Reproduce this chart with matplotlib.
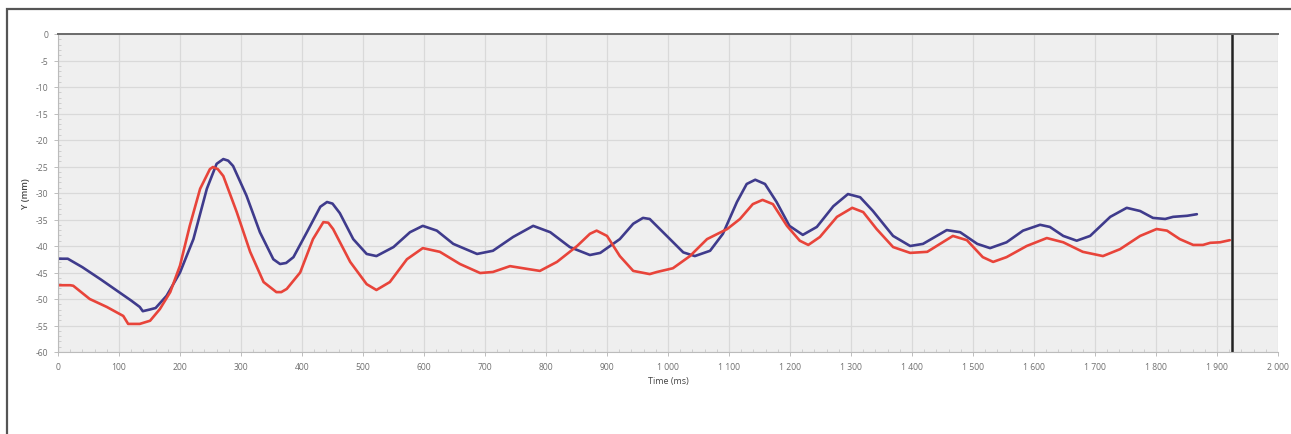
import matplotlib
matplotlib.use("Agg")
import matplotlib.pyplot as plt
from matplotlib.ticker import MultipleLocator, FuncFormatter
from matplotlib.patches import Rectangle

# Time samples (ms) and vertical position (mm) for the two traces
blue_t = [0, 16, 40, 70, 100, 120, 134, 139, 150, 160,
          178, 200, 222, 244, 260, 271, 279, 287, 309, 331, 353,
          364, 374, 386, 408, 430, 441, 450, 462, 484, 506, 522, 550,
          577, 598, 621, 648, 687, 713, 746, 779, 807, 839,
          872, 889, 921, 943, 959, 970, 998, 1025, 1044, 1069,
          1090, 1113, 1129, 1143, 1159, 1178, 1199, 1221, 1244, 1271,
          1295, 1315, 1336, 1369, 1397, 1418, 1457, 1479, 1507, 1528,
          1555, 1582, 1610, 1626, 1648, 1670, 1692, 1725, 1752, 1774,
          1795, 1815, 1828, 1851, 1867]
blue_y = [-42.4, -42.4, -44.0, -46.3, -48.7, -50.3, -51.5, -52.3, -52.0, -51.7,
          -49.4, -45.0, -38.7, -29.2, -24.5, -23.6, -23.9, -24.9, -30.5, -37.4, -42.5,
          -43.4, -43.2, -42.1, -37.4, -32.6, -31.7, -32.0, -33.8, -38.7, -41.5, -41.9, -40.2,
          -37.4, -36.2, -37.1, -39.6, -41.5, -40.9, -38.3, -36.2, -37.4, -40.2,
          -41.7, -41.3, -38.7, -35.8, -34.7, -34.9, -38.1, -41.2, -41.9, -40.9,
          -37.7, -31.7, -28.3, -27.5, -28.3, -31.7, -36.2, -37.9, -36.4, -32.5,
          -30.2, -30.8, -33.4, -38.1, -40.0, -39.6, -37.0, -37.4, -39.6, -40.4,
          -39.3, -37.1, -36.0, -36.4, -38.1, -39.0, -38.1, -34.5, -32.8, -33.4,
          -34.7, -34.9, -34.5, -34.3, -34.0]

red_t = [0, 20, 25, 52, 80, 107, 115, 134, 151, 167,
         184, 200, 216, 233, 249, 254, 262, 271, 293, 315, 337,
         358, 366, 375, 397, 418, 435, 443, 451, 479, 506, 522, 544,
         572, 598, 626, 659, 692, 713, 741, 768, 790, 818,
         851, 872, 883, 900, 921, 943, 970, 982, 1008, 1036,
         1064, 1097, 1118, 1139, 1155, 1172, 1195, 1216, 1230, 1249,
         1277, 1302, 1320, 1342, 1369, 1397, 1425, 1467, 1490, 1516,
         1533, 1555, 1588, 1621, 1648, 1680, 1713, 1741, 1774, 1801,
         1818, 1839, 1861, 1877, 1889, 1905, 1921]
red_y = [-47.4, -47.4, -47.5, -50.0, -51.5, -53.2, -54.7, -54.7, -54.1, -51.9,
         -48.7, -43.7, -36.2, -29.2, -25.5, -25.1, -25.5, -26.8, -33.6, -41.1, -46.8,
         -48.7, -48.7, -48.1, -45.0, -38.7, -35.5, -35.6, -36.8, -43.0, -47.2, -48.3, -46.8,
         -42.5, -40.4, -41.1, -43.4, -45.1, -44.9, -43.8, -44.3, -44.7, -43.0,
         -40.0, -37.7, -37.1, -38.1, -41.9, -44.7, -45.3, -44.9, -44.2, -41.9,
         -38.7, -36.8, -34.9, -32.1, -31.3, -32.1, -36.2, -39.0, -39.8, -38.3,
         -34.5, -32.8, -33.6, -36.8, -40.2, -41.3, -41.1, -38.1, -38.9, -42.1,
         -43.0, -42.1, -40.0, -38.5, -39.3, -41.1, -41.9, -40.6, -38.1, -36.8,
         -37.1, -38.7, -39.8, -39.8, -39.4, -39.3, -38.9]

cursor_t = 1924

plt.rcParams['font.family'] = ['Open Sans', 'DejaVu Sans']

W, H = 1291, 435
fig = plt.figure(figsize=(W / 100, H / 100), dpi=100)
fig.patch.set_facecolor('white')

# outer frame (left and top edges visible)
fig.patches.append(Rectangle((7 / W, -0.05), 1.2, 1 - 10 / H + 0.05,
                             transform=fig.transFigure, fill=False,
                             edgecolor='#555555', linewidth=1.6))

ax = fig.add_axes([58 / W, 1 - 353 / H, (1278 - 58) / W, (353 - 35) / H])
ax.set_facecolor('#efefef')

ax.set_xlim(0, 2000)
ax.set_ylim(-60, 0)

ax.xaxis.set_major_locator(MultipleLocator(100))
ax.xaxis.set_minor_locator(MultipleLocator(20))
ax.yaxis.set_major_locator(MultipleLocator(5))
ax.yaxis.set_minor_locator(MultipleLocator(1))
ax.xaxis.set_major_formatter(FuncFormatter(
    lambda v, p: f"{int(v):,}".replace(",", " ")))
ax.yaxis.set_major_formatter(FuncFormatter(lambda v, p: f"{int(v)}"))

ax.grid(True, which='major', color='#d9d9d9', linewidth=0.9)
ax.set_axisbelow(True)

ax.spines['right'].set_visible(False)
ax.spines['top'].set_color('#6a6a6a')
ax.spines['top'].set_linewidth(1.4)
ax.spines['left'].set_color('#bbbbbb')
ax.spines['bottom'].set_color('#bbbbbb')
ax.spines['left'].set_linewidth(0.8)
ax.spines['bottom'].set_linewidth(0.8)

ax.tick_params(axis='both', which='major', labelsize=6.2, colors='#bdbdbd',
               labelcolor='#707070', length=3, width=0.7, pad=4)
ax.tick_params(axis='both', which='minor', colors='#c8c8c8', length=2,
               width=0.6, direction='in')

ax.plot(blue_t, blue_y, color='#3f3b8c', linewidth=1.9,
        solid_joinstyle='round', solid_capstyle='round')
ax.plot(red_t, red_y, color='#e8443a', linewidth=1.9,
        solid_joinstyle='round', solid_capstyle='round')

ax.axvline(cursor_t, color='#222222', linewidth=1.8)

ax.set_xlabel('Time (ms)', fontsize=6.5, color='#444444', labelpad=4)
ax.set_ylabel('Y (mm)', fontsize=6.5, color='#444444', labelpad=4,
              fontweight='semibold')

fig.savefig('out.png', dpi=100, facecolor='white')
